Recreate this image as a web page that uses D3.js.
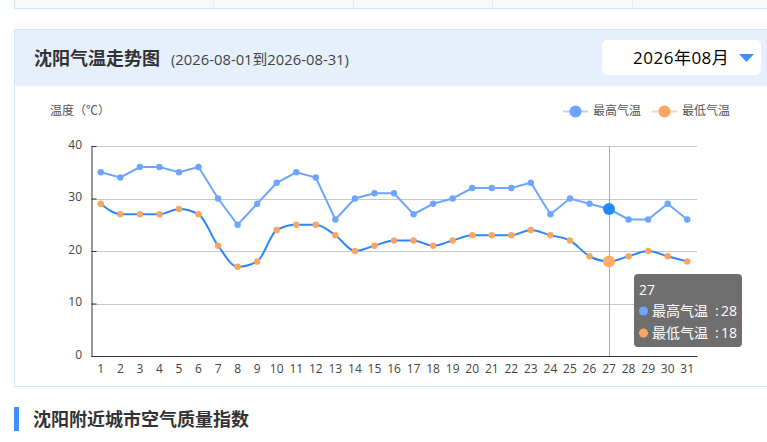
<!DOCTYPE html>
<html>
<head>
<meta charset="utf-8">
<title>沈阳气温走势图</title>
<style>
html, body { margin: 0; padding: 0; background: #fff; overflow: hidden; }
svg { display: block; }
text { font-family: "Open Sans", "Noto Sans CJK SC", sans-serif; }
.axis text { font-size: 12px; fill: #444; }
</style>
</head>
<body>
<svg width="767" height="442"></svg>
<script src="https://cdnjs.cloudflare.com/ajax/libs/d3/7.8.5/d3.min.js"></script>
<script>
const days = d3.range(1, 32).map(String);
const high = [35,34,36,36,35,36,30,25,29,33,35,34,26,30,31,31,27,29,30,32,32,32,33,27,30,29,28,26,26,29,26];
const low = [29,27,27,27,28,27,21,17,18,24,25,25,23,20,21,22,22,21,22,23,23,23,24,23,22,19,18,19,20,19,18];
const yTicks = [0, 10, 20, 30, 40];
const activeDay = "27";

const svg = d3.select("svg");

// table stub at the top of the page
svg.append("rect").attr("x", 14.5).attr("y", -2).attr("width", 760).attr("height", 10.5)
  .attr("fill", "#f8f8f8").attr("stroke", "#d6e6fd");
svg.selectAll(".cell").data([213.5, 353.5, 492.5, 632.5]).enter().append("line")
  .attr("x1", d => d).attr("x2", d => d).attr("y1", 0).attr("y2", 8).attr("stroke", "#e6e9ee");

// panel + header
svg.append("rect").attr("x", 14.5).attr("y", 29.5).attr("width", 760).attr("height", 357)
  .attr("fill", "#fff").attr("stroke", "#d6e6fd");
svg.append("rect").attr("x", 15).attr("y", 30).attr("width", 760).attr("height", 56).attr("fill", "#e6f0fd");
svg.append("text").attr("x", 34).attr("y", 65).attr("font-size", 18).attr("font-weight", 700)
  .attr("fill", "#333").text("沈阳气温走势图");
svg.append("text").attr("x", 171).attr("y", 65).attr("font-size", 14.8).attr("fill", "#444")
  .text("(2026-08-01到2026-08-31)");

// month select
svg.append("rect").attr("x", 602).attr("y", 40).attr("width", 159).attr("height", 35).attr("rx", 5).attr("fill", "#fff");
svg.append("text").attr("x", 633).attr("y", 64).attr("font-size", 17).attr("letter-spacing", 0.5)
  .attr("fill", "#000").text("2026年08月");
svg.append("path").attr("d", "M739,54h15l-7.500,8z").attr("fill", "#3e90ff");

// scales
const x = d3.scaleBand().domain(days).range([91, 697]);
const y = d3.scaleLinear().domain([0, 40]).range([356, 146]);
const cx = d => x(d) + x.bandwidth() / 2;

// grid
svg.selectAll(".grid").data(yTicks.slice(1)).enter().append("line")
  .attr("x1", 91.5).attr("x2", 697).attr("y1", d => Math.round(y(d)) + 0.5).attr("y2", d => Math.round(y(d)) + 0.5)
  .attr("stroke", "#c8c8c8");

// axes
const xAxis = svg.append("g").attr("class", "axis").attr("transform", "translate(0,356)")
  .call(d3.axisBottom(x).tickSize(0).tickPadding(8));
xAxis.select(".domain").attr("stroke", "#333");
const yAxis = svg.append("g").attr("class", "axis").attr("transform", "translate(91.5,0)")
  .call(d3.axisLeft(y).tickValues(yTicks).tickSizeInner(-5).tickSizeOuter(0).tickPadding(9.5));
yAxis.select(".domain").attr("stroke", "#333");
yAxis.selectAll("line").attr("stroke", "#333");
yAxis.selectAll("text").attr("dy", "0.2em");

svg.append("text").attr("x", 50).attr("y", 115).attr("font-size", 12).attr("fill", "#555").text("温度（℃）");

// crosshair
svg.append("line").attr("x1", Math.round(cx(activeDay)) + 0.5).attr("x2", Math.round(cx(activeDay)) + 0.5)
  .attr("y1", 146).attr("y2", 356).attr("stroke", "#aaa");

// lines
const lineHigh = d3.line().x((d, i) => cx(days[i])).y(d => y(d));
const lineLow = d3.line().x((d, i) => cx(days[i])).y(d => y(d)).curve(d3.curveMonotoneX);
svg.append("path").attr("d", lineHigh(high)).attr("fill", "none").attr("stroke", "#6ea6ff").attr("stroke-width", 2);
svg.append("path").attr("d", lineLow(low)).attr("fill", "none").attr("stroke", "#2e86ff").attr("stroke-width", 2);

// points
function dots(values, color, activeColor) {
  svg.append("g").selectAll("circle").data(values).enter().append("circle")
    .attr("cx", (d, i) => cx(days[i])).attr("cy", d => y(d))
    .attr("r", (d, i) => days[i] === activeDay ? 6 : 3.200)
    .attr("fill", (d, i) => days[i] === activeDay ? activeColor : color);
}
dots(high, "#6ea6ff", "#2488ff");
dots(low, "#fca55f", "#ffae63");

// legend
const legend = [
  { name: "最高气温", line: "#b9d3ff", dot: "#6ea6ff", x: 563 },
  { name: "最低气温", line: "#fdd3b0", dot: "#fca55f", x: 652 }
];
legend.forEach(l => {
  svg.append("line").attr("x1", l.x).attr("x2", l.x + 25).attr("y1", 111.500).attr("y2", 111.500)
    .attr("stroke", l.line).attr("stroke-width", 2);
  svg.append("circle").attr("cx", l.x + 12.500).attr("cy", 111.500).attr("r", 6).attr("fill", l.dot);
  svg.append("text").attr("x", l.x + 30).attr("y", 115).attr("font-size", 12).attr("fill", "#555").text(l.name);
});

// tooltip
const tip = svg.append("g").attr("transform", "translate(634,274)");
tip.append("rect").attr("width", 108).attr("height", 73).attr("rx", 4).attr("fill", "#6e6e6e");
tip.append("text").attr("x", 5).attr("y", 21).attr("font-size", 14).attr("fill", "#fff").text(activeDay);
const idx = days.indexOf(activeDay);
[["最高气温", high[idx], "#6ea6ff", 37], ["最低气温", low[idx], "#fca55f", 59]].forEach(r => {
  tip.append("circle").attr("cx", 9.500).attr("cy", r[3]).attr("r", 4.500).attr("fill", r[2]);
  tip.append("text").attr("x", 18).attr("y", r[3] + 5).attr("font-size", 14).attr("fill", "#fff").text(r[0]);
  tip.append("text").attr("x", 81).attr("y", r[3] + 5).attr("font-size", 14).attr("fill", "#fff").text(":");
  tip.append("text").attr("x", 103).attr("y", r[3] + 5).attr("font-size", 14).attr("fill", "#fff")
    .attr("text-anchor", "end").text(r[1]);
});

// next section heading
svg.append("rect").attr("x", 14).attr("y", 407).attr("width", 5).attr("height", 24).attr("fill", "#3e90ff");
svg.append("text").attr("x", 33).attr("y", 426).attr("font-size", 18).attr("font-weight", 700)
  .attr("fill", "#333").text("沈阳附近城市空气质量指数");
</script>
</body>
</html>
